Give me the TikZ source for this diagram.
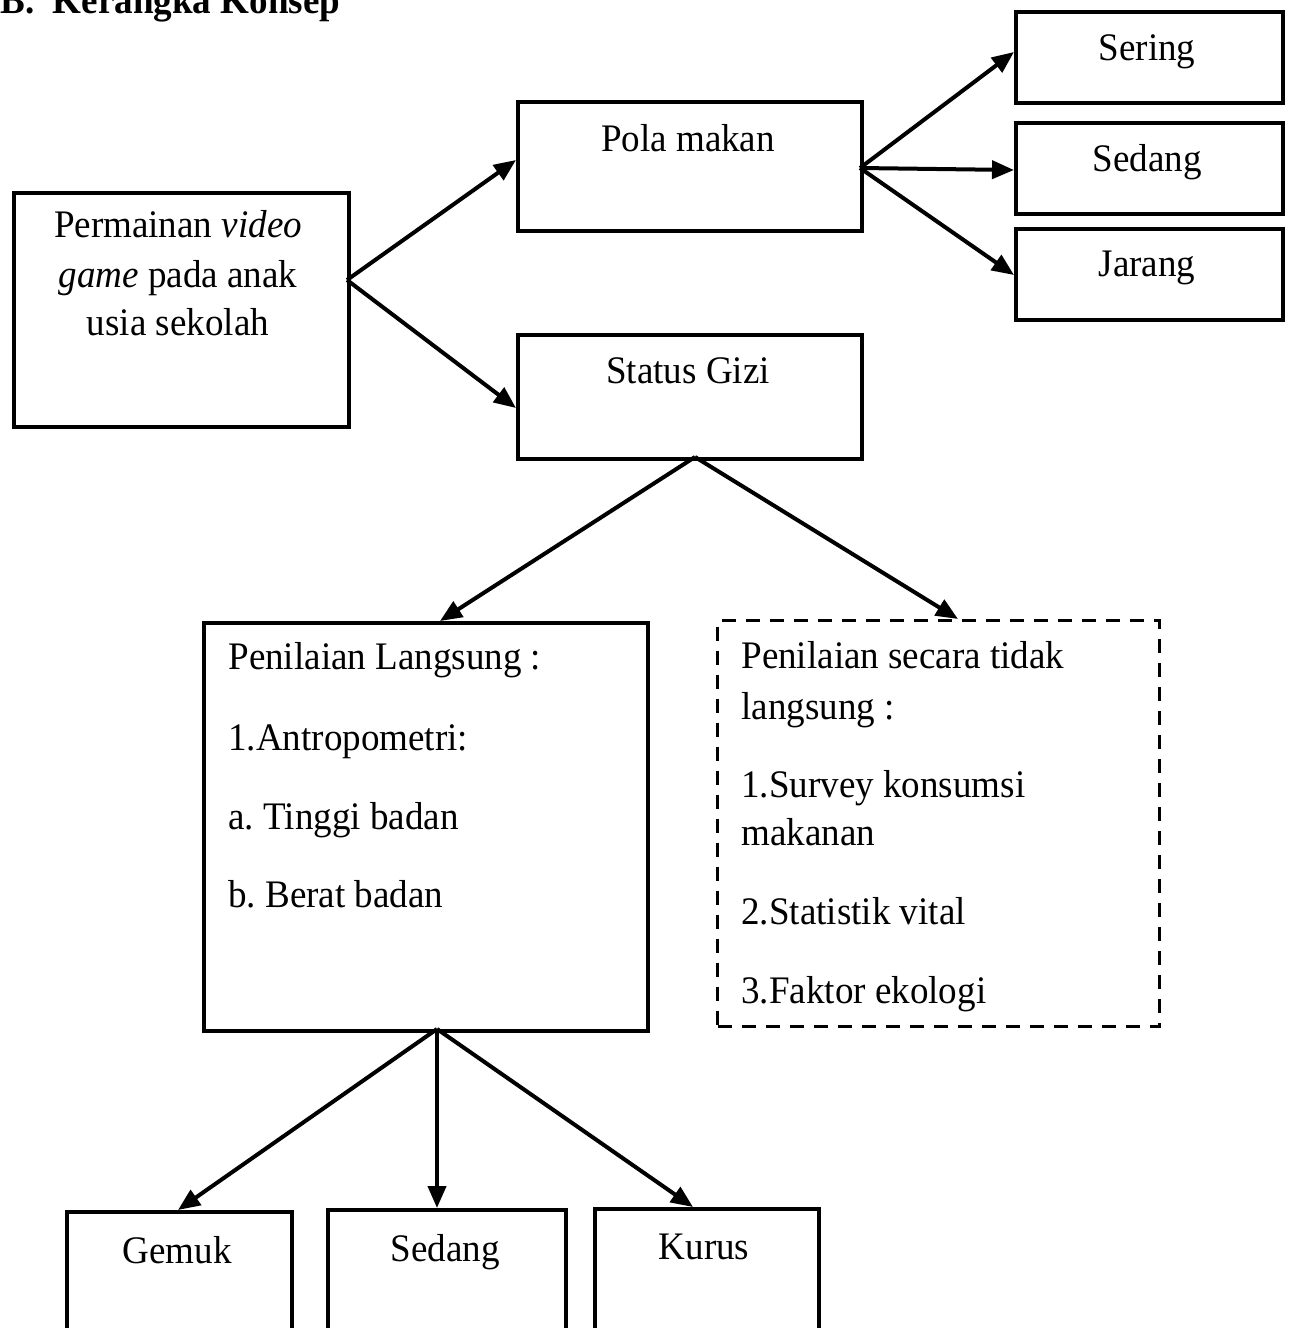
\documentclass[tikz,border=0pt]{standalone}
\usepackage{fontspec}
\setmainfont[FakeStretch=0.95]{Liberation Serif}
\usetikzlibrary{arrows.meta}
\frenchspacing
\begin{document}
\begin{tikzpicture}[x=0.5pt,y=-0.5pt,
  box/.style={draw=black,line width=2pt,rectangle,inner sep=0pt,anchor=north west},
  dbox/.style={box,dashed,dash pattern=on 7pt off 5pt,line width=1.6pt},
  txt/.style={inner sep=0pt,anchor=base,font=\fontsize{19.5}{24}\selectfont},
  ltxt/.style={txt,anchor=base west},
  arr/.style={line width=2pt,-{Triangle[length=11pt,width=9pt]}}]
\useasboundingbox (0,0) rectangle (1290,1328);
% title
\node[inner sep=0pt,anchor=base west,font=\fontsize{19.5}{24}\selectfont\bfseries] (title) at (0,13) {B.\ \ Kerangka Konsep};
% boxes
\node[box,minimum width=167.5pt,minimum height=117pt] (perm) at (12,191) {};
\node[box,minimum width=172pt,minimum height=64.5pt] (pola) at (516,100) {};
\node[box,minimum width=172pt,minimum height=62pt] (status) at (516,333) {};
\node[box,minimum width=133.5pt,minimum height=45.5pt] (sering) at (1014,10) {};
\node[box,minimum width=133.5pt,minimum height=45.5pt] (sedang1) at (1014,121) {};
\node[box,minimum width=133.5pt,minimum height=45.5pt] (jarang) at (1014,227) {};
\node[box,minimum width=222pt,minimum height=204pt] (langs) at (202,621) {};
\node[dbox,minimum width=221pt,minimum height=203pt] (tidak) at (716,619) {};
\node[box,minimum width=112.5pt,minimum height=70pt] (gemuk) at (65,1210) {};
\node[box,minimum width=119pt,minimum height=71pt] (sedang2) at (326,1208) {};
\node[box,minimum width=112pt,minimum height=71.5pt] (kurus) at (593,1207) {};
% texts
\node[txt] (t1) at (178,237) {Permainan \textit{video}};
\node[txt] (t2) at (178,287) {\textit{game} pada anak};
\node[txt] (t3) at (178,335) {usia sekolah};
\node[txt] (tp) at (688,151) {Pola makan};
\node[txt] (ts) at (688,383) {Status Gizi};
\node[txt] (tse) at (1147,60) {Sering};
\node[txt] (tsd) at (1147,171) {Sedang};
\node[txt] (tj) at (1147,276) {Jarang};
\node[ltxt] (l1) at (228,669) {Penilaian Langsung :};
\node[ltxt] (l2) at (228,750) {1.Antropometri:};
\node[ltxt] (l3) at (228,829) {a. Tinggi badan};
\node[ltxt] (l4) at (228,907) {b. Berat badan};
\node[ltxt] (d1) at (741,668) {Penilaian secara tidak};
\node[ltxt] (d2) at (741,719) {langsung :};
\node[ltxt] (d3) at (741,797) {1.Survey konsumsi};
\node[ltxt] (d4) at (741,845) {makanan};
\node[ltxt] (d5) at (741,924) {2.Statistik vital};
\node[ltxt] (d6) at (741,1003) {3.Faktor ekologi};
\node[txt] (tg) at (177,1263) {Gemuk};
\node[txt] (tsd2) at (445,1261) {Sedang};
\node[txt] (tk) at (704,1259) {Kurus};
% connector anchors
\coordinate (pr) at (347,280);
\coordinate (pl) at (516,160);
\coordinate (sl) at (516,408);
\coordinate (prr) at (860,168);
\coordinate (ser) at (1014,52);
\coordinate (sed) at (1014,170);
\coordinate (jar) at (1014,275);
\coordinate (sb) at (695,457);
\coordinate (lt) at (440,621);
\coordinate (tt) at (958,619);
\coordinate (lb) at (437,1029);
\coordinate (gt) at (178,1210);
\coordinate (s2t) at (437,1208);
\coordinate (kt) at (693,1207);
% arrows
\draw[arr] (pr) -- (pl);
\draw[arr] (pr) -- (sl);
\draw[arr] (prr) -- (ser);
\draw[arr] (prr) -- (sed);
\draw[arr] (prr) -- (jar);
\draw[arr] (sb) -- (lt);
\draw[arr] (sb) -- (tt);
\draw[arr] (lb) -- (gt);
\draw[arr] (lb) -- (s2t);
\draw[arr] (lb) -- (kt);
\end{tikzpicture}
\end{document}
